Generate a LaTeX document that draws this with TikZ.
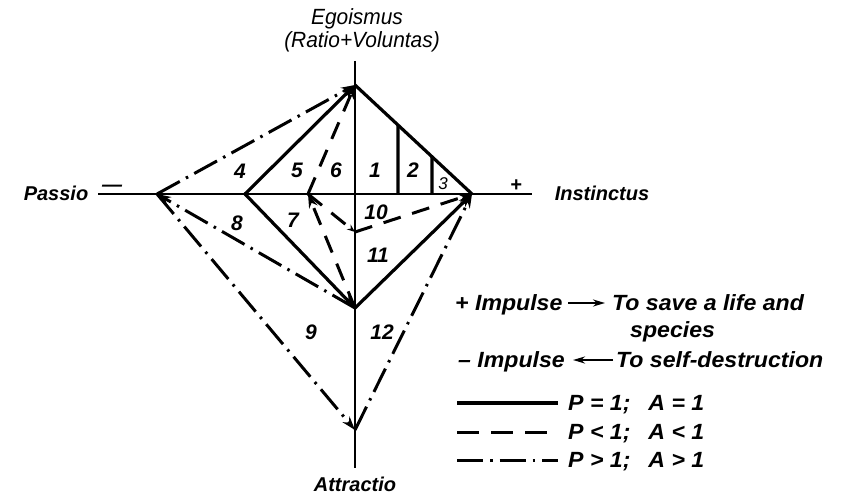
\documentclass[tikz,border=0pt]{standalone}
\usepackage{fontspec}
\setmainfont{Liberation Sans}
\usetikzlibrary{arrows.meta,calc}
\newcommand{\widetxt}[1]{\scalebox{1.05}[1]{#1}}
\begin{document}
\begin{tikzpicture}[x=1pt,y=-1pt,
 axis/.style={line width=1.6pt},
 solidln/.style={line width=3.2pt},
 dashln/.style={line width=3pt, dash pattern=on 18pt off 12pt},
 dotln/.style={line width=3pt, dash pattern=on 26pt off 7pt on 2.5pt off 7pt},
 tip/.style={-{Stealth[length=14pt,width=9pt]}},
 smalltip/.style={-{Stealth[length=8pt,width=6pt]}},
 num/.style={font=\fontsize{21}{21}\selectfont\bfseries\itshape, inner sep=0pt},
 lbl/.style={font=\fontsize{20}{20}\selectfont\bfseries\itshape, inner sep=0pt},
 ttl/.style={font=\fontsize{22}{22}\selectfont\itshape, inner sep=0pt},
 leg/.style={font=\fontsize{22}{22}\selectfont\bfseries\itshape, inner sep=0pt, anchor=base west},
 legarrow/.style={line width=2pt, -{Stealth[length=12pt,width=7pt]}},
]
\useasboundingbox[fill=white] (0,0) rectangle (861,500);

% key points
\coordinate (E) at (355,85);
\coordinate (I) at (472,194);
\coordinate (L) at (245,194);
\coordinate (B) at (355,308);
\coordinate (P) at (157,194);
\coordinate (A) at (355,430);
\coordinate (X) at (308,194);
\coordinate (M) at (355,232);
\coordinate (vt) at (355,61);
\coordinate (vb) at (355,468);
\coordinate (hl) at (98,194);
\coordinate (hr) at (532,194);
\coordinate (t1) at ($(E)!{43/117}!(I)$);
\coordinate (t2) at ($(E)!{77/117}!(I)$);
\coordinate (f1) at (398,194);
\coordinate (f2) at (432,194);

% axes
\draw[axis] (vt) -- (vb);
\draw[axis] (hl) -- (hr);

% solid diamond
\draw[solidln,tip] (L) -- (E);
\draw[solidln] (E) -- (I);
\draw[solidln,tip] (B) -- (I);
\draw[solidln,tip] (L) -- (B);
\draw[solidln] (f1) -- (t1);
\draw[solidln] (f2) -- (t2);

% dash-dot
\draw[dotln,tip] (P) -- (E);
\draw[dotln,tip] (B) -- (P);
\draw[dotln,tip] (P) -- (A);
\draw[dotln,tip] (A) -- (I);

% dashed
\draw[dashln,tip] (B) -- (X);
\draw[dashln,tip] (X) -- (E);
\draw[dashln,smalltip] (X) -- (M);
\draw[dashln,tip] (M) -- (I);

% region numbers
\node[num] (n1) at (375,170) {1};
\node[num] (n2) at (413,170) {2};
\node[num,font=\fontsize{17}{17}\selectfont\itshape] (n3) at (443,184) {3};
\node[num] (n4) at (240,171) {4};
\node[num] (n5) at (297,170) {5};
\node[num] (n6) at (336,170) {6};
\node[num] (n10) at (376,212) {10};
\node[num] (n7) at (293,220) {7};
\node[num] (n8) at (237,223) {8};
\node[num] (n11) at (378,255) {11};
\node[num] (n9) at (311,332) {9};
\node[num] (n12) at (382,332) {12};

% axis labels
\node[ttl] (ego) at (357,19) {\scalebox{0.95}[1]{Egoismus}};
\node[ttl] (rat) at (362,42) {\scalebox{0.95}[1]{(Ratio+Voluntas)}};
\node[lbl] (pas) at (56,193) {Passio};
\node[lbl] (minus) at (112,188) {\textemdash};
\node[lbl] (plus) at (516,186) {+};
\node[lbl] (ins) at (602,193) {Instinctus};
\node[lbl] (att) at (355,484) {Attractio};

% legend
\node[leg] (pi) at (455,310) {\widetxt{+ Impulse}};
\coordinate (a1s) at (568,303);
\coordinate (a1e) at (605,303);
\draw[legarrow] (a1s) -- (a1e);
\node[leg] (save) at (612,310) {\widetxt{To save a life and}};
\node[leg] (spec) at (630,337) {\widetxt{species}};
\node[leg] (mi) at (458,367) {\widetxt{\textendash\ Impulse}};
\coordinate (a2s) at (613,360);
\coordinate (a2e) at (573,360);
\draw[legarrow] (a2s) -- (a2e);
\node[leg] (selfd) at (616,367) {\widetxt{To self-destruction}};

\coordinate (s1a) at (457,403); \coordinate (s1b) at (558,403);
\coordinate (s2a) at (457,432); \coordinate (s2b) at (558,432);
\coordinate (s3a) at (457,460); \coordinate (s3b) at (558,460);
\draw[solidln] (s1a) -- (s1b);
\draw[dashln, dash pattern=on 22pt off 12pt] (s2a) -- (s2b);
\draw[dotln] (s3a) -- (s3b);
\node[leg] (p1) at (568,410) {\widetxt{P = 1;\enspace\ A = 1}};
\node[leg] (p2) at (568,439) {\widetxt{P < 1;\enspace\ A < 1}};
\node[leg] (p3) at (568,467) {\widetxt{P > 1;\enspace\ A > 1}};
\end{tikzpicture}
\end{document}
